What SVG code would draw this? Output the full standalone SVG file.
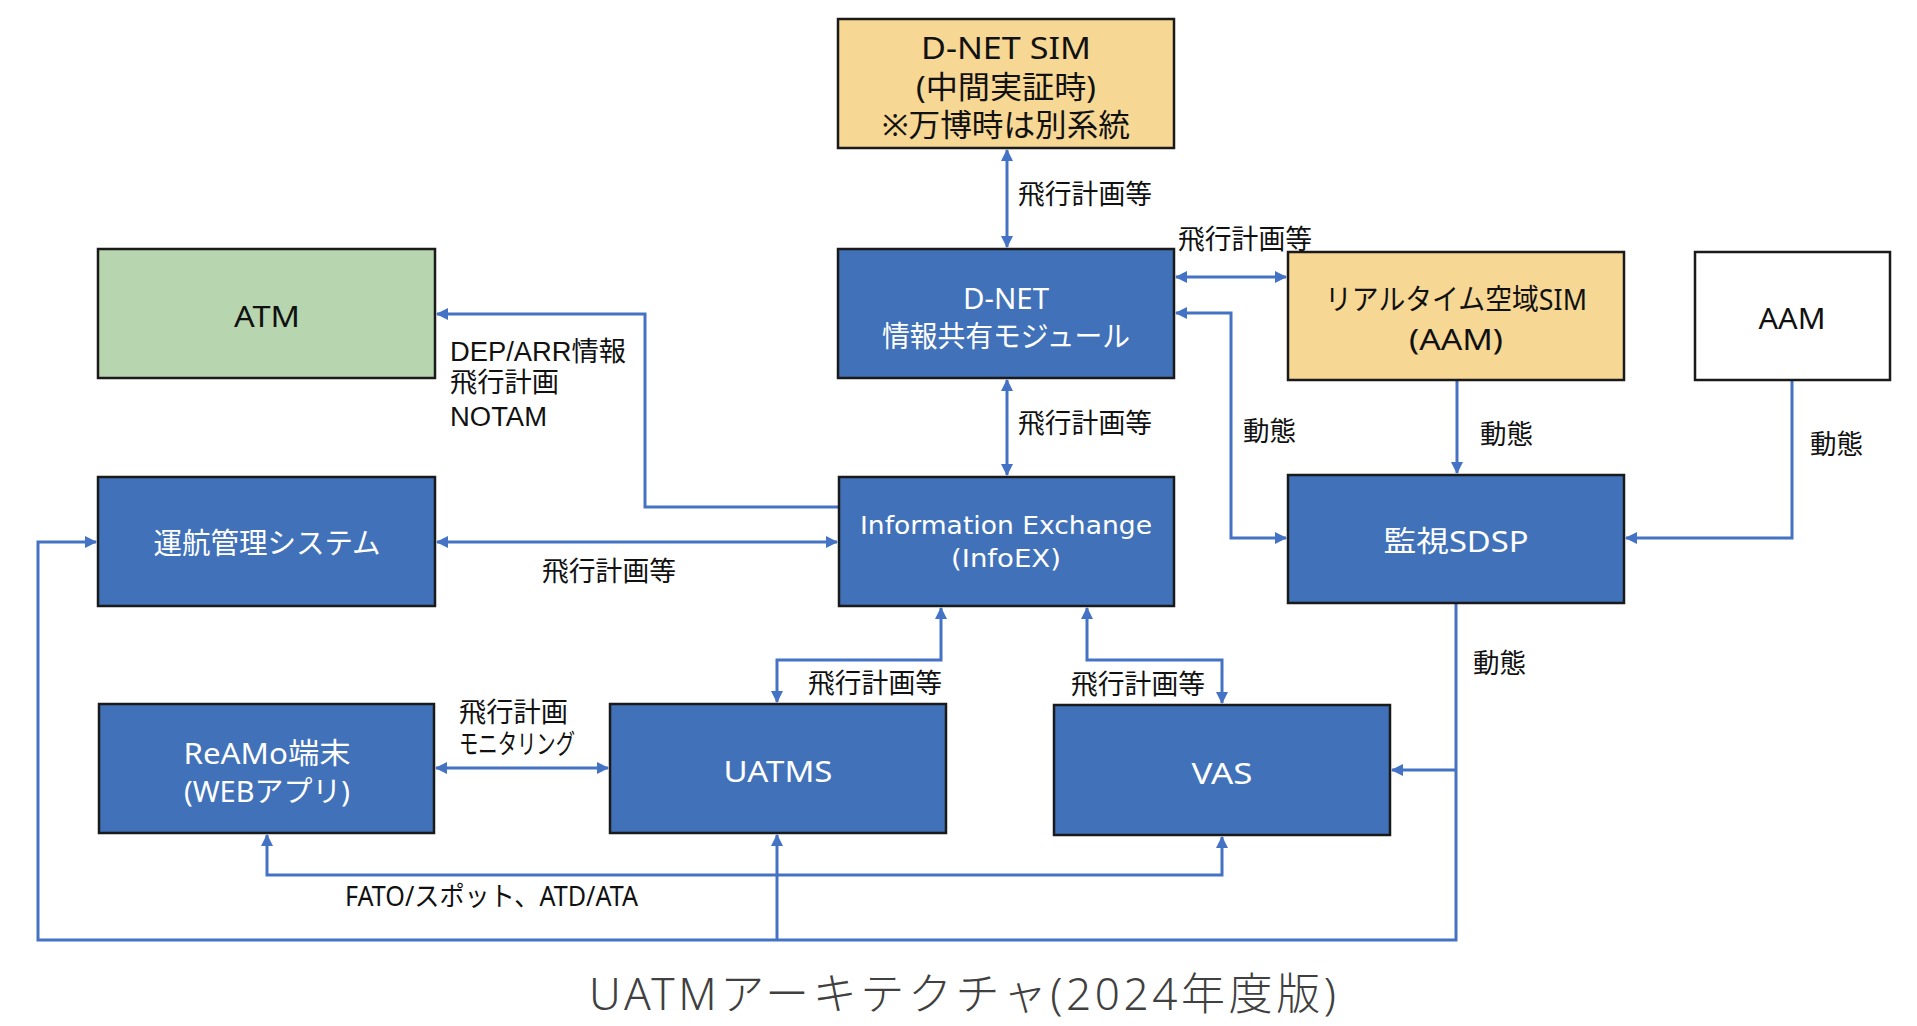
<svg xmlns="http://www.w3.org/2000/svg" width="1917" height="1026" viewBox="0 0 1917 1026">
<style>
.box{stroke:#1a1a1a;stroke-width:2.5}
.blue{fill:#4172B9}
.yellow{fill:#F6D794}
.green{fill:#B7D5AF}
.white{fill:#FFFFFF}
.t{font-family:"Noto Sans","Noto Sans CJK JP",sans-serif;font-size:29px;text-anchor:middle;dominant-baseline:central}
.tw{fill:#FFFFFF}
.tb{fill:#111111}
.lbl{font-family:"Noto Sans","Noto Sans CJK JP",sans-serif;font-size:27px;fill:#111111;dominant-baseline:central}
.ml{font-family:"Liberation Sans","Noto Sans CJK JP",sans-serif}
.c{fill:none;stroke:#4472C4;stroke-width:3}
</style>
<defs>
<marker id="ah" viewBox="0 0 12 12" refX="11" refY="6" markerWidth="12" markerHeight="12" markerUnits="userSpaceOnUse" orient="auto-start-reverse">
<path d="M0,0 L12,6 L0,12 Z" fill="#4472C4"/>
</marker>
</defs>
<rect width="1917" height="1026" fill="#FFFFFF"/>

<g id="connectors">
<line class="c" x1="1007" y1="150" x2="1007" y2="247" marker-start="url(#ah)" marker-end="url(#ah)"/>
<line class="c" x1="1007" y1="380" x2="1007" y2="475" marker-start="url(#ah)" marker-end="url(#ah)"/>
<line class="c" x1="1176" y1="277" x2="1286" y2="277" marker-start="url(#ah)" marker-end="url(#ah)"/>
<polyline class="c" points="1176,313 1231,313 1231,538 1286,538" marker-start="url(#ah)" marker-end="url(#ah)"/>
<line class="c" x1="1457" y1="381" x2="1457" y2="473" marker-end="url(#ah)"/>
<polyline class="c" points="1792,381 1792,538 1626,538" marker-end="url(#ah)"/>
<polyline class="c" points="839,507 645,507 645,314 437,314" marker-end="url(#ah)"/>
<line class="c" x1="437" y1="542" x2="837" y2="542" marker-start="url(#ah)" marker-end="url(#ah)"/>
<polyline class="c" points="777,702 777,660 941,660 941,608" marker-start="url(#ah)" marker-end="url(#ah)"/>
<polyline class="c" points="1087,608 1087,660 1222,660 1222,703" marker-start="url(#ah)" marker-end="url(#ah)"/>
<line class="c" x1="436" y1="768" x2="608" y2="768" marker-start="url(#ah)" marker-end="url(#ah)"/>
<polyline class="c" points="267,835 267,875 1222,875 1222,837" marker-start="url(#ah)" marker-end="url(#ah)"/>
<polyline class="c" points="1456,604 1456,940 38,940 38,542 96,542" marker-end="url(#ah)"/>
<polyline class="c" points="1456,770 1392,770" marker-end="url(#ah)"/>
<line class="c" x1="777" y1="940" x2="777" y2="835" marker-end="url(#ah)"/>
</g>

<g id="labels">
<text class="lbl" x="1018" y="193" textLength="134" lengthAdjust="spacingAndGlyphs">飛行計画等</text>
<text class="lbl" x="1178" y="238" textLength="134" lengthAdjust="spacingAndGlyphs">飛行計画等</text>
<text class="lbl" x="1018" y="422" textLength="134" lengthAdjust="spacingAndGlyphs">飛行計画等</text>
<text class="lbl" x="1243" y="430" textLength="53" lengthAdjust="spacingAndGlyphs">動態</text>
<text class="lbl" x="1480" y="433" textLength="53" lengthAdjust="spacingAndGlyphs">動態</text>
<text class="lbl" x="1810" y="443" textLength="53" lengthAdjust="spacingAndGlyphs">動態</text>
<text class="lbl ml" x="450" y="352" textLength="176" lengthAdjust="spacingAndGlyphs">DEP/ARR情報</text>
<text class="lbl ml" x="450" y="383" textLength="109" lengthAdjust="spacingAndGlyphs">飛行計画</text>
<text class="lbl ml" x="450" y="417" textLength="97" lengthAdjust="spacingAndGlyphs">NOTAM</text>
<text class="lbl" x="542" y="570" textLength="134" lengthAdjust="spacingAndGlyphs">飛行計画等</text>
<text class="lbl" x="808" y="682" textLength="134" lengthAdjust="spacingAndGlyphs">飛行計画等</text>
<text class="lbl" x="1071" y="683" textLength="134" lengthAdjust="spacingAndGlyphs">飛行計画等</text>
<text class="lbl" x="1473" y="662" textLength="53" lengthAdjust="spacingAndGlyphs">動態</text>
<text class="lbl ml" x="459" y="713" textLength="109" lengthAdjust="spacingAndGlyphs">飛行計画</text>
<text class="lbl ml" x="459" y="745" textLength="116" lengthAdjust="spacingAndGlyphs">モニタリング</text>
<text class="lbl" x="345" y="895" textLength="293" lengthAdjust="spacingAndGlyphs">FATO/スポット、ATD/ATA</text>
</g>

<g id="dnet-sim">
<rect class="box yellow" x="838" y="19" width="336" height="129"/>
<text class="t tb" x="1006" y="47" style="font-size:31px" textLength="170" lengthAdjust="spacingAndGlyphs">D-NET SIM</text>
<text class="t tb" x="1006" y="86" style="font-size:31px" textLength="180" lengthAdjust="spacingAndGlyphs">(中間実証時)</text>
<text class="t tb" x="1006" y="124" style="font-size:31px" textLength="248" lengthAdjust="spacingAndGlyphs">※万博時は別系統</text>
</g>
<g id="dnet">
<rect class="box blue" x="838" y="249" width="336" height="129"/>
<text class="t tw" x="1006" y="297" textLength="86" lengthAdjust="spacingAndGlyphs">D-NET</text>
<text class="t tw" x="1006" y="335" textLength="248" lengthAdjust="spacingAndGlyphs">情報共有モジュール</text>
</g>
<g id="atm">
<rect class="box green" x="98" y="249" width="337" height="129"/>
<text class="t tb" x="267" y="315" textLength="66" lengthAdjust="spacingAndGlyphs">ATM</text>
</g>
<g id="realtime-sim">
<rect class="box yellow" x="1288" y="252" width="336" height="128"/>
<text class="t tb" x="1456" y="298" textLength="262" lengthAdjust="spacingAndGlyphs">リアルタイム空域SIM</text>
<text class="t tb" x="1456" y="338" textLength="94" lengthAdjust="spacingAndGlyphs">(AAM)</text>
</g>
<g id="aam">
<rect class="box white" x="1695" y="252" width="195" height="128"/>
<text class="t tb" x="1792" y="317" textLength="67" lengthAdjust="spacingAndGlyphs">AAM</text>
</g>
<g id="unko">
<rect class="box blue" x="98" y="477" width="337" height="129"/>
<text class="t tw" x="267" y="542" textLength="227" lengthAdjust="spacingAndGlyphs">運航管理システム</text>
</g>
<g id="infoex">
<rect class="box blue" x="839" y="477" width="335" height="129"/>
<text class="t tw" x="1006" y="525" style="font-family:'DejaVu Sans',sans-serif;font-size:25px" textLength="292" lengthAdjust="spacingAndGlyphs">Information Exchange</text>
<text class="t tw" x="1006" y="558" style="font-family:'DejaVu Sans',sans-serif;font-size:25px" textLength="110" lengthAdjust="spacingAndGlyphs">(InfoEX)</text>
</g>
<g id="sdsp">
<rect class="box blue" x="1288" y="475" width="336" height="128"/>
<text class="t tw" x="1456" y="540" textLength="145" lengthAdjust="spacingAndGlyphs">監視SDSP</text>
</g>
<g id="reamo">
<rect class="box blue" x="99" y="704" width="335" height="129"/>
<text class="t tw" x="267" y="752" textLength="167" lengthAdjust="spacingAndGlyphs">ReAMo端末</text>
<text class="t tw" x="267" y="790" textLength="166" lengthAdjust="spacingAndGlyphs">(WEBアプリ)</text>
</g>
<g id="uatms">
<rect class="box blue" x="610" y="704" width="336" height="129"/>
<text class="t tw" x="778" y="770" textLength="109" lengthAdjust="spacingAndGlyphs">UATMS</text>
</g>
<g id="vas">
<rect class="box blue" x="1054" y="705" width="336" height="130"/>
<text class="t tw" x="1222" y="772" textLength="61" lengthAdjust="spacingAndGlyphs">VAS</text>
</g>

<text x="589" y="993" textLength="747" lengthAdjust="spacing" style="font-family:'Noto Sans','Noto Sans CJK JP',sans-serif;font-size:44px;font-weight:300;fill:#404040;dominant-baseline:central">UATMアーキテクチャ(2024年度版)</text>
</svg>
